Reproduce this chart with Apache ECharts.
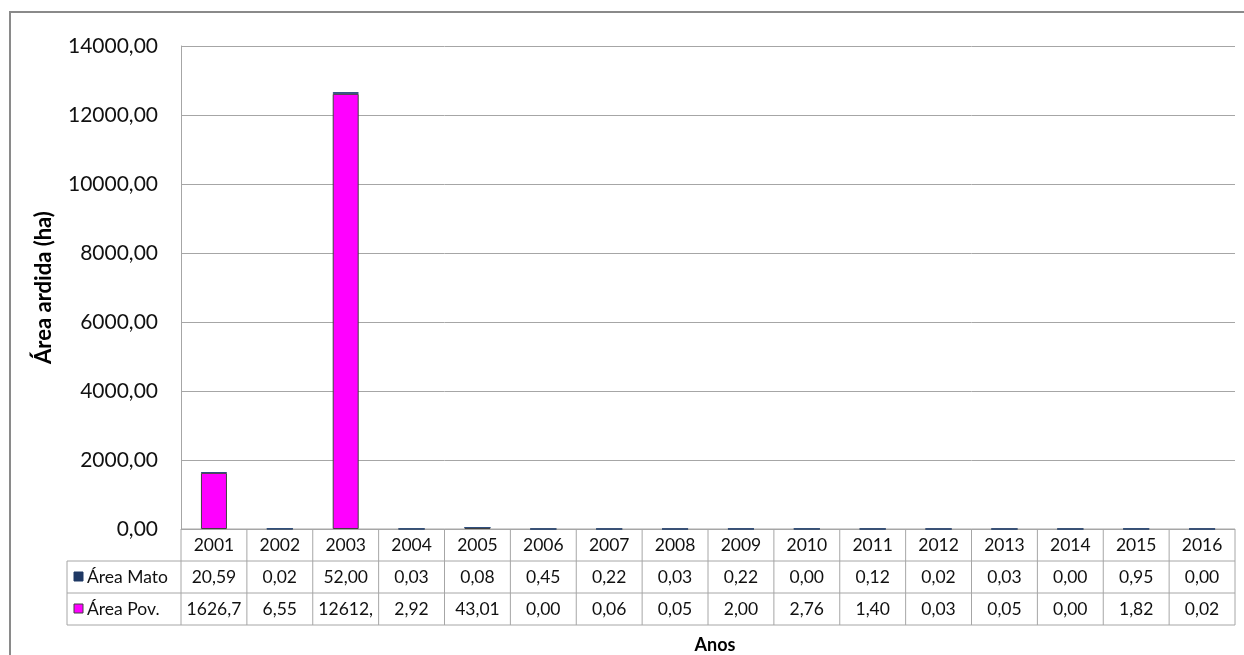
<!DOCTYPE html>
<html>
<head>
<meta charset="utf-8">
<style>
  html, body { margin: 0; padding: 0; background: #ffffff; }
  #chart { width: 1244px; height: 655px; }
</style>
<script src="https://cdn.jsdelivr.net/npm/echarts@6/dist/echarts.min.js"></script>
</head>
<body>
<div id="chart"></div>
<script>
// Burned area per year (ha), split by land cover
const years = ['2001', '2002', '2003', '2004', '2005', '2006', '2007', '2008',
               '2009', '2010', '2011', '2012', '2013', '2014', '2015', '2016'];
const areaMato = [20.59, 0.02, 52.00, 0.03, 0.08, 0.45, 0.22, 0.03,
                  0.22, 0.00, 0.12, 0.02, 0.03, 0.00, 0.95, 0.00];
const areaPov = [1626.70, 6.55, 12612.00, 2.92, 43.01, 0.00, 0.06, 0.05,
                 2.00, 2.76, 1.40, 0.03, 0.05, 0.00, 1.82, 0.02];
const seriesNames = ['Área Mato', 'Área Pov.'];
const yMax = 14000;
const yStep = 2000;

const FONT = 'Lato, "Open Sans", sans-serif';
const COLOR_MATO = '#1f3864';
const COLOR_POV = '#ff00ff';
const GRID_LINE = '#a6a6a6';
const TABLE_SIZE = 17.5;

const fmt = v => v.toFixed(2).replace('.', ',');

const grid = { left: 181, right: 9, top: 46, bottom: 126 };

const chart = echarts.init(document.getElementById('chart'), null, { renderer: 'canvas' });

chart.setOption({
  animation: false,
  backgroundColor: '#ffffff',
  grid: grid,
  xAxis: {
    type: 'category',
    data: years,
    axisLine: { show: false },
    axisTick: { show: false },
    axisLabel: { show: false },
    splitLine: { show: false }
  },
  yAxis: {
    type: 'value',
    min: 0,
    max: yMax,
    interval: yStep,
    name: 'Área ardida (ha)',
    nameLocation: 'middle',
    nameGap: 126,
    nameTextStyle: { fontFamily: FONT, fontWeight: 'bold', fontSize: 22, color: '#000' },
    axisLine: { show: true, lineStyle: { color: GRID_LINE, width: 1 } },
    axisTick: { show: false },
    axisLabel: {
      formatter: fmt,
      fontFamily: FONT,
      fontSize: 21,
      color: '#111',
      margin: 23
    },
    splitLine: { lineStyle: { color: GRID_LINE, width: 1 } }
  },
  series: [
    {
      name: seriesNames[1],
      type: 'bar',
      stack: 'area',
      barWidth: 26,
      data: areaPov,
      itemStyle: { color: COLOR_POV, borderColor: '#404040', borderWidth: 1 }
    },
    {
      name: seriesNames[0],
      type: 'bar',
      stack: 'area',
      barWidth: 26,
      data: areaMato,
      itemStyle: { color: COLOR_MATO, borderColor: '#2f4f7f', borderWidth: 1 }
    }
  ]
});

// Data table under the plot, aligned on the category axis
function drawTable() {
  const centers = years.map((_, i) => chart.convertToPixel({ xAxisIndex: 0 }, i));
  const band = centers.length > 1 ? centers[1] - centers[0] : 60;
  const x0 = centers[0] - band / 2;
  const x1 = centers[centers.length - 1] + band / 2;
  const y0 = chart.convertToPixel({ yAxisIndex: 0 }, 0);
  const rowH = 32;
  const labelLeft = 67;
  const rows = [areaMato, areaPov];
  const keyColors = [COLOR_MATO, COLOR_POV];
  const keyBorders = [COLOR_MATO, '#404040'];
  const els = [];
  const line = (xa, ya, xb, yb) => els.push({
    type: 'line',
    shape: { x1: xa, y1: ya, x2: xb, y2: yb },
    style: { stroke: GRID_LINE, lineWidth: 1 },
    silent: true
  });

  // horizontal rules
  line(x0, y0, x1, y0);
  for (let r = 1; r <= 3; r++) line(labelLeft, y0 + rowH * r, x1, y0 + rowH * r);
  // vertical rules
  for (let i = 0; i <= years.length; i++) {
    const x = x0 + band * i;
    line(x, y0, x, y0 + rowH * 3);
  }
  line(labelLeft, y0 + rowH, labelLeft, y0 + rowH * 3);

  const cellText = (txt, cx, cy) => els.push({
    type: 'text',
    style: {
      text: txt,
      x: cx,
      y: cy,
      width: band - 6,
      overflow: 'truncate',
      ellipsis: '',
      align: 'center',
      verticalAlign: 'middle',
      fontFamily: FONT,
      fontSize: TABLE_SIZE,
      fill: '#111'
    },
    silent: true
  });

  // year header row
  years.forEach((yr, i) => cellText(yr, centers[i], y0 + rowH / 2));

  // value rows with legend keys
  rows.forEach((vals, r) => {
    const cy = y0 + rowH * (r + 1) + rowH / 2;
    els.push({
      type: 'rect',
      shape: { x: 74, y: cy - 5, width: 9, height: 9 },
      style: { fill: keyColors[r], stroke: keyBorders[r], lineWidth: 1 },
      silent: true
    });
    els.push({
      type: 'text',
      style: {
        text: seriesNames[r],
        x: 87,
        y: cy,
        align: 'left',
        verticalAlign: 'middle',
        fontFamily: FONT,
        fontSize: TABLE_SIZE,
        fill: '#111'
      },
      silent: true
    });
    vals.forEach((v, i) => cellText(fmt(v), centers[i], cy));
  });

  // x axis title
  els.push({
    type: 'text',
    style: {
      text: 'Anos',
      x: 715,
      y: y0 + rowH * 3 + 20,
      align: 'center',
      verticalAlign: 'middle',
      fontFamily: FONT,
      fontWeight: 'bold',
      fontSize: 18,
      fill: '#000'
    },
    silent: true
  });

  // chart frame
  els.push({
    type: 'rect',
    shape: { x: 10, y: 12, width: 1400, height: 800 },
    style: { fill: 'none', stroke: '#8a8a8a', lineWidth: 2 },
    silent: true
  });

  chart.setOption({ graphic: { elements: els } });
}

drawTable();
</script>
</body>
</html>
